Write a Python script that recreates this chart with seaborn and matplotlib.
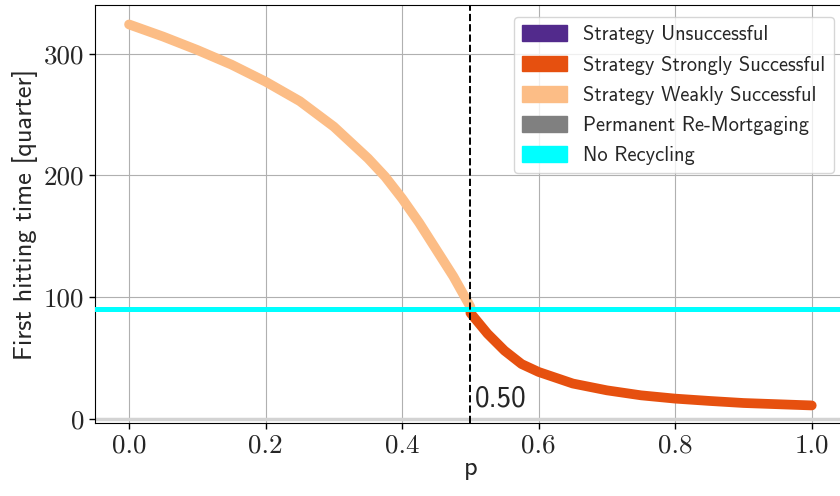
import pandas as pd
import seaborn as sns
import matplotlib.pyplot as plt
from matplotlib.patches import Patch

# values
p_weak = [0.0, 0.05, 0.1, 0.15, 0.2, 0.25, 0.3, 0.35, 0.375, 0.4, 0.425, 0.45, 0.475, 0.5]
t_weak = [324, 314, 303, 291, 277, 261, 240, 214, 199, 181, 161, 139, 117, 92]

p_strong = [0.5, 0.525, 0.55, 0.575, 0.6, 0.65, 0.7, 0.75, 0.8, 0.85, 0.9, 0.95, 1.0]
t_strong = [87, 70, 56, 45, 38.5, 29, 23.4, 19.3, 16.6, 14.7, 13, 12, 11]

no_recycling = 90
threshold = 0.5

legend_labels = ["Strategy Unsuccessful", "Strategy Strongly Successful",
                 "Strategy Weakly Successful", "Permanent Re-Mortgaging", "No Recycling"]
legend_colors = ["#522a8c", "#e6500f", "#fcbd86", "#808080", "#00ffff"]

weak = pd.DataFrame({"p": p_weak, "t": t_weak})
strong = pd.DataFrame({"p": p_strong, "t": t_strong})

sns.set_style("ticks", {"axes.grid": True, "grid.color": "#b0b0b0",
                        "axes.edgecolor": "black"})
plt.rcParams["font.family"] = ["cmss10", "DejaVu Sans"]
plt.rcParams["axes.unicode_minus"] = False

fig = plt.figure(figsize=(8.4, 4.96), dpi=100)
ax = fig.add_axes([0.113, 0.147, 0.894, 0.843])

ax.axhline(0, color="#d3d3d3", lw=2.5, zorder=1)
for df, col in [(weak, legend_colors[2]), (strong, legend_colors[1])]:
    sns.lineplot(data=df, x="p", y="t", ax=ax, color=col, lw=7,
                 solid_capstyle="round", solid_joinstyle="round", zorder=3)
ax.axhline(no_recycling, color=legend_colors[4], lw=3.6, zorder=4)
ax.axvline(threshold, color="black", ls="--", lw=1.4, zorder=5)
ax.text(threshold + 0.006, 5, "0.50", fontsize=21, family=["cmss10", "DejaVu Sans"],
        ha="left", va="bottom")

ax.set_xlim(-0.05, 1.05)
ax.set_ylim(-3.5, 340)
ax.set_xticks([0.0, 0.2, 0.4, 0.6, 0.8, 1.0])
ax.set_yticks([0, 100, 200, 300])
ax.set_xticklabels(["0.0", "0.2", "0.4", "0.6", "0.8", "1.0"])
ax.set_yticklabels(["0", "100", "200", "300"])
for lab in ax.get_xticklabels() + ax.get_yticklabels():
    lab.set_family(["cmr10", "DejaVu Serif"])
    lab.set_fontsize(19.5)
ax.tick_params(length=4, width=1, color="black")

ax.set_xlabel("p", fontsize=19, labelpad=0)
ax.set_ylabel("First hitting time [quarter]", fontsize=19)

handles = [Patch(color=c, label=l) for c, l in zip(legend_colors, legend_labels)]
ax.legend(handles=handles, loc="upper right", fontsize=14.7, framealpha=0.8,
          borderaxespad=0.6, labelspacing=0.55, handleheight=0.8, handlelength=2.2)

fig.savefig("out.png", dpi=100)
